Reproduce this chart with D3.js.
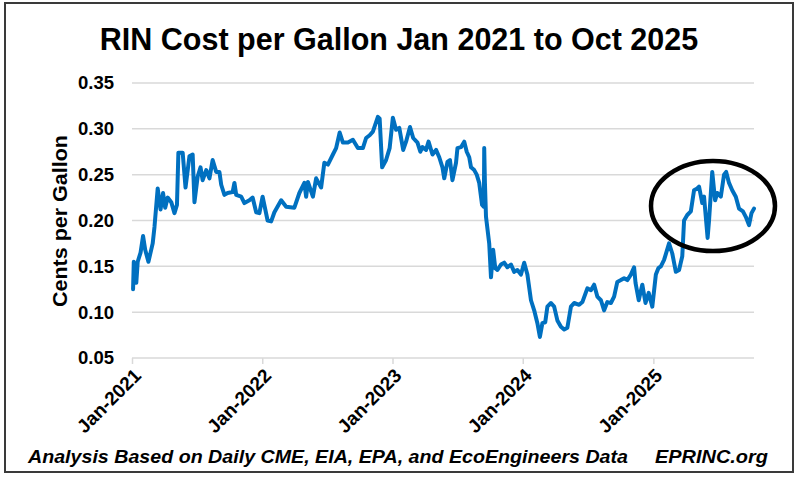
<!DOCTYPE html>
<html>
<head>
<meta charset="utf-8">
<script src="https://cdn.jsdelivr.net/npm/d3@7"></script>
<style>
  body { margin: 0; background: #fff; }
  text { font-family: 'Liberation Sans', Arial, sans-serif; }
</style>
</head>
<body>
<script>
// RIN cost per gallon (date, value)
const rin2021 = [
  ['2021-01-04', 0.125], ['2021-01-06', 0.155], ['2021-01-13', 0.132], ['2021-01-17', 0.155],
  ['2021-01-25', 0.165], ['2021-02-01', 0.183], ['2021-02-07', 0.168], ['2021-02-16', 0.155],
  ['2021-02-28', 0.175], ['2021-03-05', 0.193], ['2021-03-14', 0.235], ['2021-03-22', 0.212],
  ['2021-03-29', 0.230], ['2021-04-04', 0.214], ['2021-04-11', 0.225], ['2021-04-21', 0.220],
  ['2021-04-30', 0.208], ['2021-05-07', 0.217], ['2021-05-11', 0.274], ['2021-05-23', 0.274],
  ['2021-05-31', 0.236], ['2021-06-11', 0.270], ['2021-06-20', 0.272], ['2021-06-25', 0.220],
  ['2021-07-04', 0.248], ['2021-07-12', 0.258], ['2021-07-18', 0.244], ['2021-07-28', 0.255],
  ['2021-08-06', 0.246], ['2021-08-15', 0.266], ['2021-08-25', 0.253], ['2021-09-03', 0.253],
  ['2021-09-08', 0.239], ['2021-09-17', 0.228], ['2021-09-26', 0.230], ['2021-10-10', 0.231],
  ['2021-10-15', 0.241], ['2021-10-20', 0.228], ['2021-11-03', 0.226], ['2021-11-12', 0.219],
  ['2021-11-26', 0.222], ['2021-12-05', 0.225], ['2021-12-15', 0.209], ['2021-12-24', 0.208]
];
const rin2022 = [
  ['2022-01-02', 0.226], ['2022-01-16', 0.200], ['2022-01-26', 0.199], ['2022-02-04', 0.209],
  ['2022-02-23', 0.222], ['2022-03-09', 0.215], ['2022-04-01', 0.214], ['2022-04-15', 0.230],
  ['2022-04-29', 0.241], ['2022-05-04', 0.226], ['2022-05-09', 0.242], ['2022-05-23', 0.226],
  ['2022-06-01', 0.246], ['2022-06-15', 0.236], ['2022-06-24', 0.263], ['2022-07-04', 0.261],
  ['2022-07-18', 0.272], ['2022-07-27', 0.279], ['2022-08-06', 0.296], ['2022-08-15', 0.285],
  ['2022-08-29', 0.285], ['2022-09-12', 0.288], ['2022-09-26', 0.279], ['2022-10-10', 0.279],
  ['2022-10-19', 0.290], ['2022-10-29', 0.293], ['2022-11-07', 0.297], ['2022-11-21', 0.313],
  ['2022-11-26', 0.311], ['2022-12-03', 0.258], ['2022-12-14', 0.266], ['2022-12-24', 0.279]
];
const rin2023 = [
  ['2023-01-02', 0.312], ['2023-01-11', 0.299], ['2023-01-20', 0.301], ['2023-01-31', 0.277],
  ['2023-02-08', 0.286], ['2023-02-19', 0.302], ['2023-02-28', 0.290], ['2023-03-12', 0.285],
  ['2023-03-20', 0.275], ['2023-03-26', 0.280], ['2023-04-05', 0.277], ['2023-04-12', 0.286],
  ['2023-04-23', 0.272], ['2023-05-03', 0.277], ['2023-05-12', 0.269], ['2023-05-21', 0.258],
  ['2023-05-26', 0.246], ['2023-06-04', 0.264], ['2023-06-11', 0.266], ['2023-06-18', 0.244],
  ['2023-06-28', 0.263], ['2023-07-02', 0.279], ['2023-07-12', 0.280], ['2023-07-21', 0.286],
  ['2023-07-28', 0.275], ['2023-08-04', 0.269], ['2023-08-09', 0.258], ['2023-08-18', 0.255],
  ['2023-08-25', 0.250], ['2023-09-01', 0.241], ['2023-09-09', 0.217], ['2023-09-14', 0.215],
  ['2023-09-15', 0.279], ['2023-09-17', 0.241], ['2023-09-20', 0.204], ['2023-09-29', 0.175],
  ['2023-10-04', 0.138], ['2023-10-10', 0.168], ['2023-10-16', 0.148], ['2023-10-22', 0.146],
  ['2023-11-01', 0.152], ['2023-11-10', 0.154], ['2023-11-19', 0.149], ['2023-11-29', 0.152],
  ['2023-12-08', 0.144], ['2023-12-17', 0.146], ['2023-12-27', 0.141]
];
const rin2024 = [
  ['2024-01-05', 0.154], ['2024-01-14', 0.141], ['2024-01-24', 0.113], ['2024-02-02', 0.102],
  ['2024-02-11', 0.088], ['2024-02-18', 0.073], ['2024-02-25', 0.088], ['2024-03-04', 0.089],
  ['2024-03-10', 0.106], ['2024-03-20', 0.110], ['2024-03-29', 0.106], ['2024-04-07', 0.091],
  ['2024-04-17', 0.084], ['2024-04-26', 0.081], ['2024-05-05', 0.083], ['2024-05-15', 0.106],
  ['2024-05-24', 0.110], ['2024-06-07', 0.108], ['2024-06-16', 0.111], ['2024-06-30', 0.126],
  ['2024-07-10', 0.124], ['2024-07-19', 0.130], ['2024-07-28', 0.117], ['2024-08-07', 0.113],
  ['2024-08-16', 0.102], ['2024-08-25', 0.111], ['2024-09-04', 0.110], ['2024-09-13', 0.117],
  ['2024-09-22', 0.133], ['2024-10-02', 0.135], ['2024-10-11', 0.137], ['2024-10-20', 0.135],
  ['2024-10-30', 0.141], ['2024-11-08', 0.149], ['2024-11-12', 0.132], ['2024-11-21', 0.113],
  ['2024-12-01', 0.130], ['2024-12-10', 0.110], ['2024-12-19', 0.121], ['2024-12-29', 0.106]
];
const rin2025 = [
  ['2025-01-08', 0.141], ['2025-01-15', 0.148], ['2025-01-22', 0.150], ['2025-01-31', 0.157],
  ['2025-02-14', 0.175], ['2025-02-23', 0.164], ['2025-03-05', 0.144], ['2025-03-14', 0.146],
  ['2025-03-23', 0.161], ['2025-03-28', 0.200], ['2025-04-06', 0.206], ['2025-04-16', 0.210],
  ['2025-04-25', 0.233], ['2025-05-04', 0.235], ['2025-05-09', 0.237], ['2025-05-18', 0.219],
  ['2025-05-23', 0.226], ['2025-06-02', 0.181], ['2025-06-06', 0.200], ['2025-06-15', 0.253],
  ['2025-06-23', 0.222], ['2025-06-29', 0.230], ['2025-07-09', 0.226], ['2025-07-18', 0.250],
  ['2025-07-24', 0.253], ['2025-08-01', 0.241], ['2025-08-10', 0.233], ['2025-08-20', 0.226],
  ['2025-08-29', 0.213], ['2025-09-09', 0.210], ['2025-09-17', 0.204], ['2025-09-26', 0.195],
  ['2025-10-03', 0.208], ['2025-10-10', 0.213]
];

const yTickValues = [0.05, 0.10, 0.15, 0.20, 0.25, 0.30, 0.35];
const xTickLabels = ['Jan-2021', 'Jan-2022', 'Jan-2023', 'Jan-2024', 'Jan-2025'];
const xTickDates = ['2021-01-01', '2022-01-01', '2023-01-01', '2024-01-01', '2025-01-01'];

const titleText = 'RIN Cost per Gallon Jan 2021 to Oct 2025';
const yLabelText = 'Cents per Gallon';
const sourceText = 'Analysis Based on Daily CME, EIA, EPA, and EcoEngineers Data';
const siteText = 'EPRINC.org';

function drawChart() {
  const svgWidth = 800, svgHeight = 480;
  const parse = d3.timeParse('%Y-%m-%d');
  const font = "'Liberation Sans', Arial, sans-serif";

  const data = [...rin2021, ...rin2022, ...rin2023, ...rin2024, ...rin2025]
    .map(d => ({ date: parse(d[0]), value: d[1] }));

  const svg = d3.select('body')
    .append('svg')
    .attr('width', svgWidth)
    .attr('height', svgHeight);

  // outer frame
  svg.append('rect')
    .attr('x', 5)
    .attr('y', 3)
    .attr('width', 788)
    .attr('height', 469)
    .attr('fill', '#fff')
    .attr('stroke', '#3a3a3a')
    .attr('stroke-width', 2);

  const x = d3.scaleTime()
    .domain([parse('2021-01-01'), parse('2025-10-10')])
    .range([132, 754]);

  const y = d3.scaleLinear()
    .domain([0.05, 0.35])
    .range([358, 83]);

  // horizontal gridlines
  svg.append('g')
    .selectAll('line')
    .data(yTickValues)
    .enter()
    .append('line')
    .attr('x1', 132)
    .attr('x2', 754)
    .attr('y1', d => y(d))
    .attr('y2', d => y(d))
    .attr('stroke', '#d9d9d9')
    .attr('stroke-width', 1.5);

  const yAxis = d3.axisLeft(y)
    .tickValues(yTickValues)
    .tickSize(0)
    .tickPadding(18)
    .tickFormat(d3.format('.2f'));

  const yG = svg.append('g')
    .attr('transform', 'translate(132, 0)')
    .call(yAxis);
  yG.select('.domain').remove();
  yG.selectAll('text')
    .attr('font-size', 18.5)
    .attr('font-weight', 'bold')
    .attr('fill', '#000')
    .attr('font-family', font);

  const tickDates = xTickDates.map(parse);
  const xAxis = d3.axisBottom(x)
    .tickValues(tickDates)
    .tickSize(6)
    .tickFormat((d, i) => xTickLabels[i]);

  const xG = svg.append('g')
    .attr('transform', 'translate(0, 358)')
    .call(xAxis);
  xG.select('.domain').remove();
  xG.selectAll('.tick line')
    .attr('stroke', '#d9d9d9')
    .attr('stroke-width', 1.5);
  xG.selectAll('text')
    .attr('font-size', 19)
    .attr('font-weight', 'bold')
    .attr('fill', '#000')
    .attr('font-family', font)
    .attr('text-anchor', 'end')
    .attr('dy', '0.35em')
    .attr('transform', 'translate(5, 14) rotate(-45)')
    .attr('y', 0)
    .attr('x', 0);

  const line = d3.line()
    .x(d => x(d.date))
    .y(d => y(d.value));

  svg.append('path')
    .datum(data)
    .attr('fill', 'none')
    .attr('stroke', '#0070c0')
    .attr('stroke-width', 4)
    .attr('stroke-linejoin', 'round')
    .attr('stroke-linecap', 'round')
    .attr('d', line);

  // highlight ring round 2025
  svg.append('ellipse')
    .attr('cx', 713)
    .attr('cy', 206)
    .attr('rx', 62)
    .attr('ry', 45)
    .attr('fill', 'none')
    .attr('stroke', '#000')
    .attr('stroke-width', 4.5);

  svg.append('text')
    .attr('x', 399)
    .attr('y', 50)
    .attr('text-anchor', 'middle')
    .attr('font-size', 30.5)
    .attr('font-weight', 'bold')
    .text(titleText);

  svg.append('text')
    .attr('transform', 'translate(67, 221) rotate(-90)')
    .attr('text-anchor', 'middle')
    .attr('font-size', 20)
    .attr('font-weight', 'bold')
    .attr('textLength', 172)
    .attr('lengthAdjust', 'spacingAndGlyphs')
    .text(yLabelText);

  svg.append('text')
    .attr('x', 28)
    .attr('y', 463)
    .attr('font-size', 18)
    .attr('font-weight', 'bold')
    .attr('font-style', 'italic')
    .attr('textLength', 600)
    .attr('lengthAdjust', 'spacingAndGlyphs')
    .text(sourceText);

  svg.append('text')
    .attr('x', 655)
    .attr('y', 463)
    .attr('font-size', 18)
    .attr('font-weight', 'bold')
    .attr('font-style', 'italic')
    .attr('textLength', 113)
    .attr('lengthAdjust', 'spacingAndGlyphs')
    .text(siteText);
}

drawChart();
</script>
</body>
</html>
